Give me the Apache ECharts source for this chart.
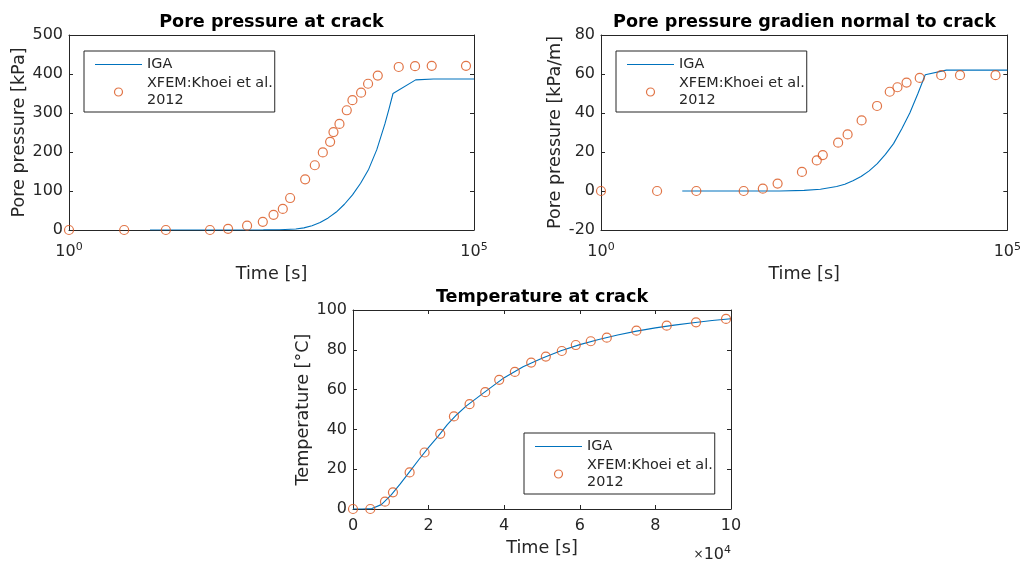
<!DOCTYPE html>
<html>
<head>
<meta charset="utf-8">
<script src="https://cdn.jsdelivr.net/npm/echarts@6/dist/echarts.min.js"></script>
<style>
  html, body { margin: 0; padding: 0; background: #ffffff; }
  #chart { width: 1024px; height: 564px; }
</style>
</head>
<body>
<div id="chart"></div>
<script>
// ---- Pore pressure at crack (time in s, pressure in kPa) ----
const ppIgaTime = [10, 100, 251, 398, 631, 794, 1000, 1259, 1585, 1995, 2512, 3162, 3981, 5012, 6310, 7943, 8913, 10000, 19050, 31620, 100000];
const ppIgaValue = [0, 0, 0.2, 0.5, 2.5, 5.5, 11, 19, 31, 46, 66, 90, 120, 156, 206, 272, 310, 350, 385, 387, 387];
const ppXfemTime = [1, 4.8, 15.7, 55, 92, 158, 247, 335, 436, 537, 823, 1083, 1360, 1674, 1841, 2183, 2687, 3157, 4038, 4924, 6486, 11770, 18710, 30060, 79660];
const ppXfemValue = [0, 0, 0, 0, 3, 11, 21, 39, 54, 82, 130, 166, 199, 226, 251, 272, 307, 333, 352, 375, 396, 418, 420, 421, 421];

// ---- Pore pressure gradient normal to crack (kPa/m) ----
const pgIgaTime = [10, 158, 316, 501, 794, 1000, 1259, 1585, 1995, 2512, 3162, 3981, 5012, 6310, 7943, 9772, 17780, 100000];
const pgIgaValue = [0, 0, 0.3, 0.9, 2.3, 3.5, 5.2, 7.4, 10.3, 14.0, 18.8, 24.3, 31.8, 40, 50, 59.6, 62, 62];
const pgXfemTime = [1, 4.9, 14.9, 57, 98, 149, 297, 452, 536, 828, 1083, 1611, 2495, 3573, 4446, 5756, 8360, 15360, 26180, 71600];
const pgXfemValue = [0, 0, 0, 0, 1.2, 3.8, 9.8, 15.7, 18.4, 24.8, 29, 36.2, 43.6, 50.9, 53.2, 55.6, 58, 59.4, 59.4, 59.4];

// ---- Temperature at crack (degrees C) ----
const tIgaTime = [0, 2500, 5000, 7500, 10000, 12500, 15000, 17500, 20000, 22500, 25000, 27500, 30000, 35000, 40000, 45000, 50000, 55000, 60000, 65000, 70000, 75000, 80000, 85000, 90000, 95000, 100000];
const tIgaValue = [0, 0, 0.2, 2.2, 6.8, 12.6, 18.8, 25, 31, 36.5, 42.5, 47.5, 51.8, 59, 66, 71.5, 75.8, 79.5, 82.6, 85.2, 87.4, 89.4, 91, 92.4, 93.6, 94.7, 95.6];
const tXfemTime = [0, 4580, 8460, 10570, 14980, 18940, 23080, 26700, 30840, 34980, 38680, 42820, 47140, 51010, 55240, 58940, 62900, 67140, 74980, 82990, 90750, 98680];
const tXfemValue = [0, 0, 3.7, 8.4, 18.4, 28.4, 37.8, 46.5, 52.7, 58.7, 64.9, 68.9, 73.6, 76.6, 79.4, 82.4, 84.3, 86.1, 89.6, 92.1, 93.8, 95.5];

const titles = ['Pore pressure at crack', 'Pore pressure gradien normal to crack', 'Temperature at crack'];
const yNames = ['Pore pressure [kPa]', 'Pore pressure [kPa/m]', 'Temperature [°C]'];
const xName = 'Time [s]';
const igaName = 'IGA';
const xfemName = 'XFEM:Khoei et al. 2012';
const xfemLegendText = 'XFEM:Khoei et al.\n2012';

const FONT = 'DejaVu Sans';
const INK = '#262626';
const BLUE = '#0072BD';
const ORANGE = '#D95319';

const zip = (xs, ys) => xs.map((x, i) => [x, ys[i]]);

const grids = [
  { left: 69, top: 35, width: 405, height: 195 },
  { left: 601, top: 35, width: 407, height: 195 },
  { left: 353, top: 310, width: 378, height: 199 }
];

const logLabel = {
  color: INK, fontFamily: FONT, margin: 12,
  formatter: function (v) {
    const e = Math.round(Math.log10(v));
    if (e === 0 || e === 5) return '{b|10}{s|' + e + '}';
    return '';
  },
  rich: {
    b: { fontSize: 16, color: INK, fontFamily: FONT, lineHeight: 20 },
    s: { fontSize: 11, color: INK, fontFamily: FONT, verticalAlign: 'top', lineHeight: 12 }
  }
};

function xLog(gi) {
  return {
    gridIndex: gi, type: 'log', logBase: 10, min: 1, max: 100000,
    axisLine: { show: true, onZero: false, lineStyle: { color: INK, width: 1 } },
    axisTick: { show: false }, splitLine: { show: false },
    axisLabel: logLabel,
    name: xName, nameLocation: 'middle', nameGap: 35,
    nameTextStyle: { color: INK, fontFamily: FONT, fontSize: 17.6 }
  };
}
function xTopMirror(gi, type, min, max, interval, ticks) {
  const a = {
    gridIndex: gi, type: type, position: 'top', min: min, max: max,
    axisLine: { show: true, onZero: false, lineStyle: { color: INK, width: 1 } },
    axisTick: { show: ticks, inside: true, length: 4, lineStyle: { color: INK } },
    axisLabel: { show: false }, splitLine: { show: false }
  };
  if (type === 'log') a.logBase = 10;
  if (interval) a.interval = interval;
  return a;
}
function yLeft(gi, min, max, interval, name, gap) {
  return {
    gridIndex: gi, type: 'value', min: min, max: max, interval: interval,
    axisLine: { show: true, onZero: false, lineStyle: { color: INK, width: 1 } },
    axisTick: { show: true, inside: true, length: 4, lineStyle: { color: INK } },
    splitLine: { show: false },
    axisLabel: { color: INK, fontFamily: FONT, fontSize: 16, margin: 6 },
    name: name, nameLocation: 'middle', nameGap: gap,
    nameTextStyle: { color: INK, fontFamily: FONT, fontSize: 17.6 }
  };
}
function yRight(gi, min, max, interval) {
  return {
    gridIndex: gi, type: 'value', position: 'right', min: min, max: max, interval: interval,
    axisLine: { show: true, onZero: false, lineStyle: { color: INK, width: 1 } },
    axisTick: { show: true, inside: true, length: 4, lineStyle: { color: INK } },
    axisLabel: { show: false }, splitLine: { show: false }
  };
}

function legendAt(left, top) {
  return {
    orient: 'vertical', left: left, top: top,
    padding: [5, 2, 3, 11], itemGap: 2,
    itemWidth: 47, itemHeight: 8,
    borderColor: INK, borderWidth: 1, backgroundColor: '#ffffff',
    textStyle: { color: INK, fontFamily: FONT, fontSize: 14.4, lineHeight: 17 },
    formatter: function (n) { return n === xfemName ? xfemLegendText : n; },
    data: [
      { name: igaName, icon: 'path://M0,0L47,0L47,1L0,1Z', itemStyle: { color: BLUE, borderWidth: 0 } },
      { name: xfemName, icon: 'circle', itemStyle: { color: 'rgba(0,0,0,0)', borderColor: ORANGE, borderWidth: 1.2 } }
    ]
  };
}

function igaSeries(xi, yi, data) {
  return {
    name: igaName, type: 'line', xAxisIndex: xi, yAxisIndex: yi, data: data,
    symbol: 'none', smooth: false, lineStyle: { color: BLUE, width: 1.1 }, itemStyle: { color: BLUE },
    z: 2, animation: false
  };
}
function xfemSeries(xi, yi, data) {
  return {
    name: xfemName, type: 'scatter', xAxisIndex: xi, yAxisIndex: yi, data: data,
    symbol: 'circle', symbolSize: 9,
    itemStyle: { color: 'rgba(0,0,0,0)', borderColor: ORANGE, borderWidth: 1.2 },
    z: 3, animation: false
  };
}

const option = {
  backgroundColor: '#ffffff',
  animation: false,
  textStyle: { fontFamily: FONT },
  title: grids.map((g, i) => ({
    text: titles[i], left: g.left + g.width / 2, top: i === 2 ? 288 : 13, textAlign: 'center', padding: 0,
    textStyle: { color: '#000000', fontFamily: FONT, fontSize: 17.6, fontWeight: 'bold' }
  })),
  grid: grids,
  legend: [legendAt(84, 51), legendAt(616, 51), legendAt(524, 433)],
  xAxis: [
    xLog(0), xLog(1),
    {
      gridIndex: 2, type: 'value', min: 0, max: 100000, interval: 20000,
      axisLine: { show: true, onZero: false, lineStyle: { color: INK, width: 1 } },
      axisTick: { show: true, inside: true, length: 4, lineStyle: { color: INK } },
      splitLine: { show: false },
      axisLabel: { color: INK, fontFamily: FONT, fontSize: 16, margin: 9, formatter: v => String(v / 10000) },
      name: xName, nameLocation: 'middle', nameGap: 30,
      nameTextStyle: { color: INK, fontFamily: FONT, fontSize: 17.6 }
    },
    xTopMirror(0, 'log', 1, 100000, null, false),
    xTopMirror(1, 'log', 1, 100000, null, false),
    xTopMirror(2, 'value', 0, 100000, 20000, true)
  ],
  yAxis: [
    yLeft(0, 0, 500, 100, yNames[0], 41), yRight(0, 0, 500, 100),
    yLeft(1, -20, 80, 20, yNames[1], 37), yRight(1, -20, 80, 20),
    yLeft(2, 0, 100, 20, yNames[2], 41), yRight(2, 0, 100, 20)
  ],
  graphic: [{
    type: 'text', right: 1024 - 731, top: 545,
    style: {
      text: '{m|×}{b|10}{s|4}',
      rich: {
        m: { fontSize: 12, fill: INK, fontFamily: FONT, lineHeight: 20 },
        b: { fontSize: 16, fill: INK, fontFamily: FONT, lineHeight: 20 },
        s: { fontSize: 11, fill: INK, fontFamily: FONT, verticalAlign: 'top', lineHeight: 12 }
      }
    }
  }],
  series: [
    igaSeries(0, 0, zip(ppIgaTime, ppIgaValue)),
    xfemSeries(0, 0, zip(ppXfemTime, ppXfemValue)),
    igaSeries(1, 2, zip(pgIgaTime, pgIgaValue)),
    xfemSeries(1, 2, zip(pgXfemTime, pgXfemValue)),
    igaSeries(2, 4, zip(tIgaTime, tIgaValue)),
    xfemSeries(2, 4, zip(tXfemTime, tXfemValue))
  ]
};

const chart = echarts.init(document.getElementById('chart'), null, { renderer: 'canvas' });
chart.setOption(option);
</script>
</body>
</html>
